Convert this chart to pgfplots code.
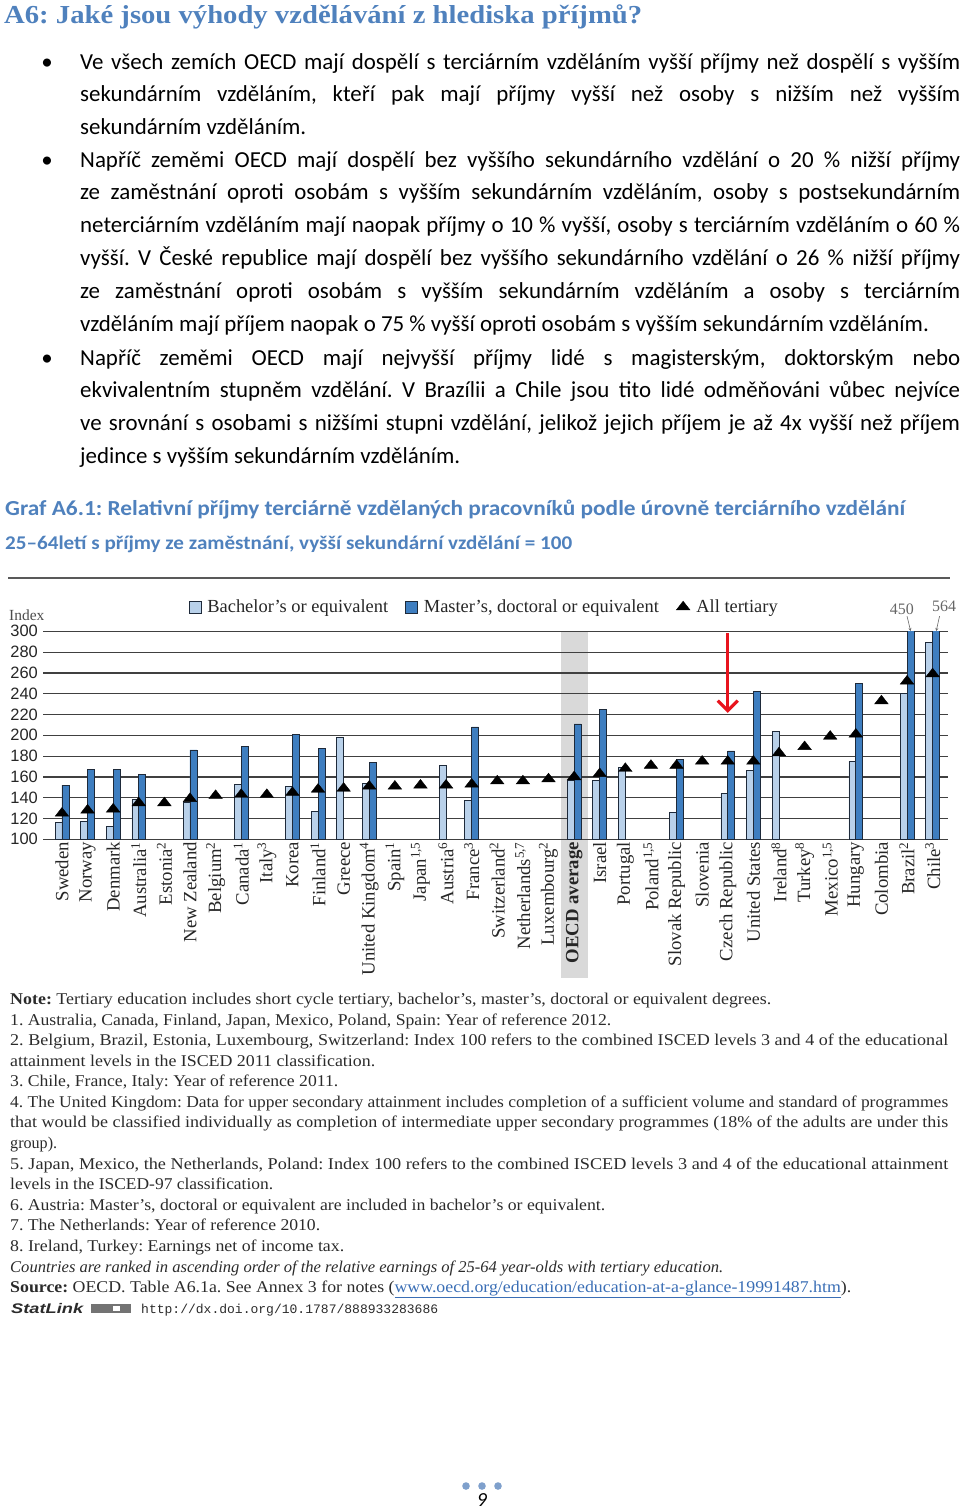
\documentclass[border=0pt]{standalone}
\usepackage{fontspec}
\usepackage{graphicx}
\usepackage{pgfplots}
\pgfplotsset{compat=1.18}
\usetikzlibrary{arrows.meta}
\setmainfont{Carlito}
\newfontfamily\serif{Liberation Serif}
\newfontfamily\sans{Liberation Sans}
\newfontfamily\mono{Liberation Mono}
\definecolor{head}{HTML}{4F81BD}
\definecolor{lightbar}{HTML}{B9D1EA}
\definecolor{darkbar}{HTML}{3E7EC0}
\definecolor{edge}{HTML}{1E2A3A}
\definecolor{gridc}{HTML}{404040}
\definecolor{band}{HTML}{D9D9D9}
\definecolor{note}{HTML}{2B2B2B}
\definecolor{dots}{HTML}{7FA0CC}
\definecolor{link}{HTML}{3A6EB5}
\definecolor{redarrow}{HTML}{E8141E}
\pgfplotsset{boxlegend/.style={legend image code/.code={\draw[##1] (0bp,-6bp) rectangle (12bp,6bp); \path (16bp,0bp);}},
  trilegend/.style={legend image code/.code={\path (0bp,0bp) (18bp,0bp); \draw[##1] plot coordinates {(7bp,0bp)};}}}
\newcommand\bodyfont{\fontsize{23}{28}\selectfont}
\newcommand\BJ[2]{\node[anchor=base west,inner sep=0pt] at (80bp,-#1bp) {\bodyfont\makebox[880bp][s]{#2}};}
\newcommand\BL[2]{\node[anchor=base west,inner sep=0pt] at (80bp,-#1bp) {\bodyfont #2};}
\newcommand\BUL[1]{\node[anchor=base,inner sep=0pt] at (47bp,-#1bp) {\bodyfont •};}
\newcommand\NL[3]{\node[anchor=base west,inner sep=0pt,text=note] at (10bp,-#1bp) {\resizebox{#2bp}{\height}{\serif\fontsize{16.5}{18}\selectfont #3}};}
\frenchspacing
\begin{document}
\begin{tikzpicture}
\useasboundingbox (0,0) rectangle (960bp,-1511bp);
% heading
\node[anchor=base west,inner sep=0pt,text=head] at (4bp,-23bp) {\resizebox{638bp}{\height}{\serif\bfseries\fontsize{26}{30}\selectfont A6: Jaké jsou výhody vzdělávání z hlediska příjmů?}};
% bullets
\BUL{69}\BUL{167}\BUL{365}
\BJ{69}{Ve všech zemích OECD mají dospělí s terciárním vzděláním vyšší příjmy než dospělí s vyšším}
\BJ{101.7}{sekundárním vzděláním, kteří pak mají příjmy vyšší než osoby s nižším než vyšším}
\BL{134.4}{sekundárním vzděláním.}
\BJ{167}{Napříč zeměmi OECD mají dospělí bez vyššího sekundárního vzdělání o 20~\% nižší příjmy}
\BJ{199.8}{ze zaměstnání oproti osobám s vyšším sekundárním vzděláním, osoby s postsekundárním}
\BJ{232.6}{neterciárním vzděláním mají naopak příjmy o 10~\% vyšší, osoby s terciárním vzděláním o 60~\%}
\BJ{265.4}{vyšší. V České republice mají dospělí bez vyššího sekundárního vzdělání o 26~\% nižší příjmy}
\BJ{298.2}{ze zaměstnání oproti osobám s vyšším sekundárním vzděláním a osoby s terciárním}
\BL{331}{vzděláním mají příjem naopak o 75~\% vyšší oproti osobám s vyšším sekundárním vzděláním.}
\BJ{365}{Napříč zeměmi OECD mají nejvyšší příjmy lidé s magisterským, doktorským nebo}
\BJ{397.7}{ekvivalentním stupněm vzdělání. V Brazílii a Chile jsou tito lidé odměňováni vůbec nejvíce}
\BJ{430.4}{ve srovnání s osobami s nižšími stupni vzdělání, jelikož jejich příjem je až 4x vyšší než příjem}
\BL{463.1}{jedince s vyšším sekundárním vzděláním.}
% graph title
\node[anchor=base west,inner sep=0pt,text=head] at (5bp,-515bp) {\resizebox{900bp}{\height}{\bfseries\fontsize{21.5}{24}\selectfont Graf A6.1: Relativní příjmy terciárně vzdělaných pracovníků podle úrovně terciárního vzdělání}};
\node[anchor=base west,inner sep=0pt,text=head] at (5bp,-549bp) {\resizebox{567bp}{\height}{\bfseries\fontsize{19.5}{22}\selectfont 25–64letí s příjmy ze zaměstnání, vyšší sekundární vzdělání = 100}};
\draw[line width=1.8bp, black!65] (8bp,-578bp) -- (950bp,-578bp);
% Index label
\node[anchor=west,inner sep=0pt,text=black!70] at (9bp,-615bp) {\serif\fontsize{15.5}{16}\selectfont Index};
% OECD average highlight band (behind the axis)
\fill[band] (560.5bp,-631.3bp) rectangle (588.2bp,-978bp);
\begin{axis}[
  at={(43bp,-839.3bp)}, anchor=south west,
  scale only axis, width=905bp, height=208bp,
  xmin=-0.74, xmax=34.6, ymin=100, ymax=300,
  clip mode=individual,
  axis lines*=left,
  y axis line style={draw=none},
  x axis line style={gridc, line width=1.5bp},
  major tick length=0pt,
  xtick={0,...,34},
  xticklabels={Sweden, Norway, Denmark, Australia\textsuperscript{1}, Estonia\textsuperscript{2}, New Zealand, Belgium\textsuperscript{2}, Canada\textsuperscript{1}, Italy\textsuperscript{3}, Korea, Finland\textsuperscript{1}, Greece, United Kingdom\textsuperscript{4}, Spain\textsuperscript{1}, {Japan\textsuperscript{1,5}}, Austria\textsuperscript{6}, France\textsuperscript{3}, Switzerland\textsuperscript{2}, {Netherlands\textsuperscript{5,7}}, Luxembourg\textsuperscript{2}, \textbf{OECD average}, Israel, Portugal, {Poland\textsuperscript{1,5}}, Slovak Republic, Slovenia, Czech Republic, United States, Ireland\textsuperscript{8}, Turkey\textsuperscript{8}, {Mexico\textsuperscript{1,5}}, Hungary, Colombia, Brazil\textsuperscript{2}, Chile\textsuperscript{3}},
  xticklabel style={rotate=90, anchor=east, font=\serif\fontsize{18.8}{19}\selectfont, text=black!85, inner sep=2.5bp},
  ytick={100,120,...,300},
  /pgf/number format/assume math mode=true,
  yticklabel style={font=\sans\fontsize{16.5}{17}\selectfont, text=black!85, anchor=east, inner sep=0pt, xshift=-5bp},
  ymajorgrids, grid style={gridc, line width=1.2bp},
  legend style={at={(0.4875,1)}, anchor=south, yshift=13bp, draw=none, fill=none,
    font=\serif\fontsize{18.5}{18.5}\selectfont, text=black!85,
    /tikz/every even column/.append style={column sep=15bp}},
  legend columns=3, legend cell align=left,
]
\addplot[ybar, bar width=0.27, bar shift=-0.135, fill=lightbar, draw=edge, line width=0.7bp, boxlegend]
 coordinates {(0,116) (1,117) (2,112) (3,138) (5,136) (7,153) (9,151) (10,127) (11,198) (12,154) (15,171) (16,137) (20,157) (21,157) (22,169) (24,126) (26,144) (27,166) (28,204) (31,175) (33,240) (34,289)};
\addlegendentry{Bachelor’s or equivalent}
\addplot[ybar, bar width=0.27, bar shift=0.135, fill=darkbar, draw=edge, line width=0.7bp, boxlegend]
 coordinates {(0,152) (1,167) (2,167) (3,162) (5,186) (7,189) (9,201) (10,187) (12,174) (16,208) (20,211) (21,225) (24,177) (26,185) (27,242) (31,250) (33,450) (34,564)};
\addlegendentry{Master’s, doctoral or equivalent}
\addplot[only marks, mark=triangle*, mark size=5.8bp, mark options={fill=black, draw=black, xscale=1.35}, trilegend]
 coordinates {(0,125) (1,128) (2,129) (3,135) (4,135) (5,139) (6,142) (7,143) (8,143) (9,145) (10,148) (11,149) (12,151) (13,151) (14,152) (15,152) (16,153) (17,156) (18,156) (19,158) (20,160) (21,163) (22,168) (23,171) (24,171) (25,175) (26,175) (27,175) (28,183) (29,189) (30,199) (31,201) (32,233) (33,252) (34,259)};
\addlegendentry{All tertiary}
% truncated bar labels
\node[text=black!60, font=\serif\fontsize{16}{16}\selectfont, inner sep=0pt] at (axis cs:32.8,321.5) {450};
\node[text=black!60, font=\serif\fontsize{16}{16}\selectfont, inner sep=0pt] at (axis cs:34.45,324) {564};
\draw[black!60, line width=0.6bp, -{Stealth[length=3bp,width=3bp]}] (axis cs:33.0,314.6) -- (axis cs:33.14,300.3);
\draw[black!60, line width=0.6bp, -{Stealth[length=3bp,width=3bp]}] (axis cs:34.27,314.6) -- (axis cs:34.14,300.3);
% red arrow
\draw[redarrow, line width=3.2bp, -{Straight Barb[length=10bp, width=20bp]}] (axis cs:26,298) -- (axis cs:26,221.5);
\end{axis}
% notes
\NL{1004}{761}{\textbf{Note:} Tertiary education includes short cycle tertiary, bachelor’s, master’s, doctoral or equivalent degrees.}
\NL{1025}{601}{1. Australia, Canada, Finland, Japan, Mexico, Poland, Spain: Year of reference 2012.}
\NL{1045}{938}{2. Belgium, Brazil, Estonia, Luxembourg, Switzerland: Index 100 refers to the combined ISCED levels 3 and 4 of the educational}
\NL{1066}{365}{attainment levels in the ISCED 2011 classification.}
\NL{1086}{328}{3. Chile, France, Italy: Year of reference 2011.}
\NL{1107}{938}{4. The United Kingdom: Data for upper secondary attainment includes completion of a sufficient volume and standard of programmes}
\NL{1127}{938}{that would be classified individually as completion of intermediate upper secondary programmes (18\% of the adults are under this}
\NL{1148}{47}{group).}
\NL{1169}{938}{5. Japan, Mexico, the Netherlands, Poland: Index 100 refers to the combined ISCED levels 3 and 4 of the educational attainment}
\NL{1189}{263}{levels in the ISCED-97 classification.}
\NL{1210}{595}{6. Austria: Master’s, doctoral or equivalent are included in bachelor’s or equivalent.}
\NL{1230}{310}{7. The Netherlands: Year of reference 2010.}
\NL{1251}{334}{8. Ireland, Turkey: Earnings net of income tax.}
\NL{1272}{713}{\itshape Countries are ranked in ascending order of the relative earnings of 25-64 year-olds with tertiary education.}
\NL{1292}{841}{\textbf{Source:} OECD. Table A6.1a. See Annex 3 for notes (\textcolor{link}{\underline{www.oecd.org/education/education-at-a-glance-19991487.htm}}).}
\node[anchor=base west,inner sep=0pt,text=note] at (11bp,-1313bp) {\resizebox{72bp}{\height}{\sans\bfseries\itshape\fontsize{14}{16}\selectfont StatLink}};
\fill[black!55] (91bp,-1304bp) rectangle (131bp,-1313bp);
\fill[white] (113bp,-1306bp) rectangle (120bp,-1311bp);
\node[anchor=base west,inner sep=0pt,text=note] at (141bp,-1313bp) {\resizebox{297bp}{\height}{\mono\fontsize{13}{15}\selectfont http://dx.doi.org/10.1787/888933283686}};
% page number
\fill[dots] (466bp,-1486bp) circle (3.8bp);
\fill[dots] (482bp,-1486bp) circle (3.8bp);
\fill[dots] (498bp,-1486bp) circle (3.8bp);
\node[anchor=base,inner sep=0pt] at (482bp,-1506bp) {\itshape\fontsize{20}{22}\selectfont 9};
\end{tikzpicture}
\end{document}
